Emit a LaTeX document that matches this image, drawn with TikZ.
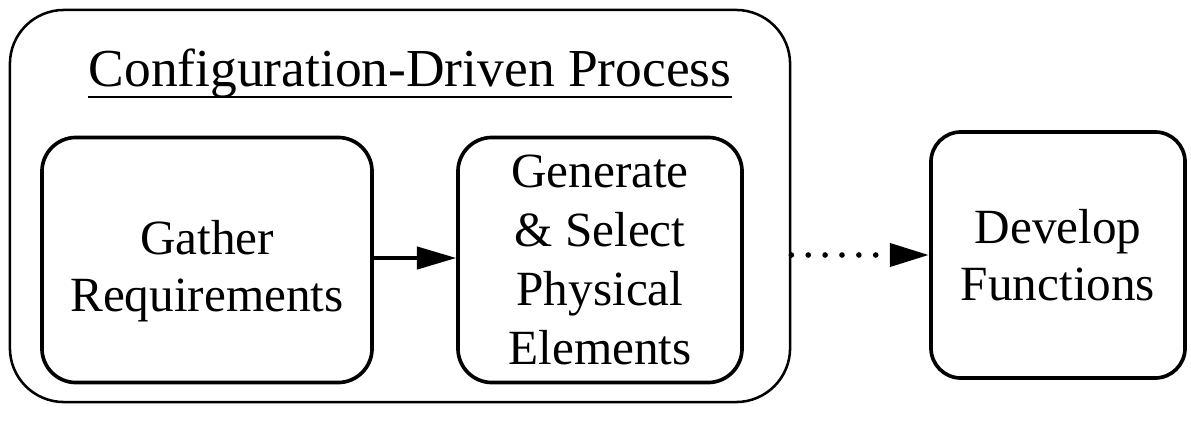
\documentclass[tikz,border=0pt]{standalone}
\usepackage{fontspec}
\setmainfont{Liberation Serif}
\usetikzlibrary{arrows.meta, positioning}

\tikzset{
    stagebox/.style={draw, line width=2.6pt, rounded corners=0.85cm, align=center,
        font=\fontsize{35}{41}\selectfont, inner sep=0pt},
    flow/.style={-{Triangle[length=28pt, width=16pt]}, line width=2.2pt},
}

\begin{document}
\begin{tikzpicture}[x=0.025cm, y=-0.025cm]
    \useasboundingbox (0,0) rectangle (1191,421);

    % the process frame with its heading
    \node[draw, line width=1.8pt, rounded corners=1.35cm, minimum width=19.5cm,
        minimum height=9.8cm] (process) at (400,206) {};
    \node[anchor=base, inner sep=0pt, font=\fontsize{38}{44}\selectfont]
        (title) at (410,86) {Configuration-Driven Process};
    \draw[line width=1.6pt] ([yshift=-8pt]title.base west) -- ([yshift=-8pt]title.base east);

    % stages
    \node[stagebox, minimum width=8.25cm, minimum height=6.125cm]
        (gather) at (207,260) {\rule{0pt}{40pt}Gather\\Requirements};
    \node[stagebox, font=\fontsize{35}{42}\selectfont, minimum width=7.1cm,
        minimum height=6.125cm] (generate) at (600,260)
        {Generate\\\& Select\\Physical\\Elements};
    \node[stagebox, rounded corners=0.75cm, minimum width=6.35cm, minimum height=6.15cm]
        (develop) at (1058,255) {Develop\\Functions};

    \draw[flow] (gather.east |- 0,258) -- (generate.west |- 0,258);
    \draw[flow, dash pattern=on 0pt off 12pt, line cap=round, line width=4pt]
        (process.east |- 0,255) -- (develop.west |- 0,255);
\end{tikzpicture}
\end{document}
